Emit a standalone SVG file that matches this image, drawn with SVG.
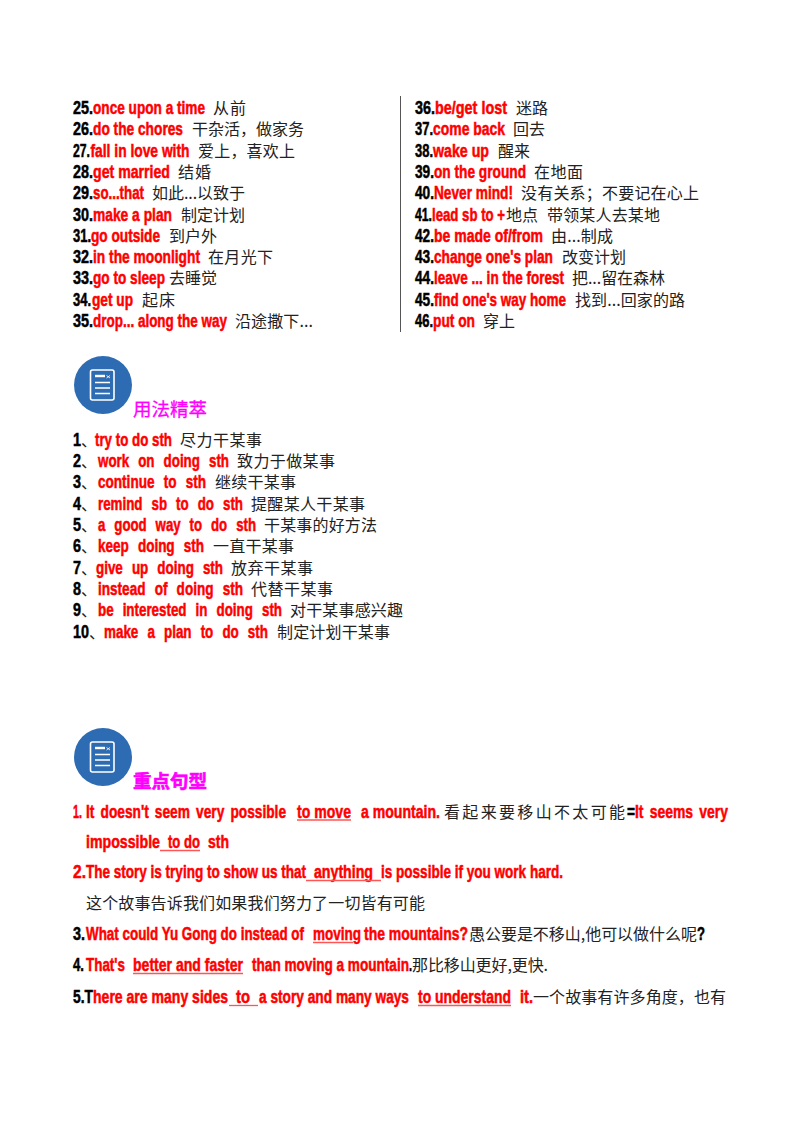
<svg xmlns="http://www.w3.org/2000/svg" width="800" height="1132" viewBox="0 0 800 1132">
<style>
.k,.r{font-family:"Liberation Sans","Noto Sans CJK SC",sans-serif;font-size:17.5px;font-weight:700;stroke-width:.5px}
.k{fill:#000;stroke:#000}
.r{fill:#f00;stroke:#f00}
.c{font-family:"Noto Sans CJK SC",sans-serif;font-size:16px;fill:#222}
.h{font-family:"Noto Sans CJK SC",sans-serif;font-size:18.5px;fill:#f0f;stroke:#f0f}
.u{stroke:#f55;stroke-width:1.3;fill:none}
.w{stroke:#fff;fill:none;stroke-width:1.6}
</style>
<defs>
<g id="icon">
<circle cx="103" cy="385" r="29" fill="#2d6cb3"/>
<rect x="90.500" y="370" width="23.500" height="30" rx="2" class="w"/>
<path d="M95 376H105" stroke="#fff" stroke-width="2.400"/>
<path d="M106.500 375.500L110 378M110 375.500L106.500 378" stroke="#fff" stroke-width=".8"/>
<path d="M95 382.500H110M95 388H110M95 393.500H110" class="w"/>
</g>
</defs>
<rect width="800" height="1132" fill="#fff"/>
<line x1="400.500" y1="96" x2="400.500" y2="332" stroke="#555" stroke-width="1"/>

<g id="vocab-left">
<text class="k" x="73" y="114" textLength="20" lengthAdjust="spacingAndGlyphs">25.</text><text class="r" x="93" y="114" textLength="112" lengthAdjust="spacingAndGlyphs">once upon a time</text><text class="c" x="213" y="114" textLength="33">从前</text>
<text class="k" x="73" y="135" textLength="20" lengthAdjust="spacingAndGlyphs">26.</text><text class="r" x="93" y="135" textLength="90" lengthAdjust="spacingAndGlyphs">do the chores</text><text class="c" x="192" y="135" textLength="112">干杂活，做家务</text>
<text class="k" x="73" y="156.500" textLength="17" lengthAdjust="spacingAndGlyphs">27.</text><text class="r" x="90.500" y="156.500" textLength="99" lengthAdjust="spacingAndGlyphs">fall in love with</text><text class="c" x="198" y="156.500" textLength="97">爱上，喜欢上</text>
<text class="k" x="73" y="178" textLength="20" lengthAdjust="spacingAndGlyphs">28.</text><text class="r" x="93" y="178" textLength="77" lengthAdjust="spacingAndGlyphs">get married</text><text class="c" x="178" y="178" textLength="33">结婚</text>
<text class="k" x="73" y="199" textLength="20" lengthAdjust="spacingAndGlyphs">29.</text><text class="r" x="93" y="199" textLength="51" lengthAdjust="spacingAndGlyphs">so...that</text><text class="c" x="152" y="199" textLength="93">如此...以致于</text>
<text class="k" x="73" y="220.500" textLength="20" lengthAdjust="spacingAndGlyphs">30.</text><text class="r" x="93" y="220.500" textLength="79" lengthAdjust="spacingAndGlyphs">make a plan</text><text class="c" x="181" y="220.500" textLength="64">制定计划</text>
<text class="k" x="73" y="241.500" textLength="18" lengthAdjust="spacingAndGlyphs">31.</text><text class="r" x="91" y="241.500" textLength="69" lengthAdjust="spacingAndGlyphs">go outside</text><text class="c" x="169" y="241.500" textLength="48">到户外</text>
<text class="k" x="73" y="263" textLength="20" lengthAdjust="spacingAndGlyphs">32.</text><text class="r" x="93" y="263" textLength="107" lengthAdjust="spacingAndGlyphs">in the moonlight</text><text class="c" x="208" y="263" textLength="65">在月光下</text>
<text class="k" x="73" y="284" textLength="20" lengthAdjust="spacingAndGlyphs">33.</text><text class="r" x="93" y="284" textLength="72" lengthAdjust="spacingAndGlyphs">go to sleep</text><text class="c" x="169" y="284">去睡觉</text>
<text class="k" x="73" y="305.500" textLength="18" lengthAdjust="spacingAndGlyphs">34.</text><text class="r" x="92" y="305.500" textLength="41" lengthAdjust="spacingAndGlyphs">get up</text><text class="c" x="142" y="305.500" textLength="33">起床</text>
<text class="k" x="73" y="326.500" textLength="20" lengthAdjust="spacingAndGlyphs">35.</text><text class="r" x="93" y="326.500" textLength="134" lengthAdjust="spacingAndGlyphs">drop... along the way</text><text class="c" x="235" y="326.500" textLength="78">沿途撒下...</text>
</g>

<g id="vocab-right">
<text class="k" x="415" y="114" textLength="20" lengthAdjust="spacingAndGlyphs">36.</text><text class="r" x="435" y="114" textLength="72" lengthAdjust="spacingAndGlyphs">be/get lost</text><text class="c" x="516" y="114" textLength="32">迷路</text>
<text class="k" x="415" y="135" textLength="18" lengthAdjust="spacingAndGlyphs">37.</text><text class="r" x="433" y="135" textLength="72" lengthAdjust="spacingAndGlyphs">come back</text><text class="c" x="513" y="135" textLength="32">回去</text>
<text class="k" x="415" y="156.500" textLength="18" lengthAdjust="spacingAndGlyphs">38.</text><text class="r" x="433" y="156.500" textLength="56" lengthAdjust="spacingAndGlyphs">wake up</text><text class="c" x="498" y="156.500" textLength="32">醒来</text>
<text class="k" x="415" y="178" textLength="19" lengthAdjust="spacingAndGlyphs">39.</text><text class="r" x="434" y="178" textLength="92" lengthAdjust="spacingAndGlyphs">on the ground</text><text class="c" x="534" y="178" textLength="49">在地面</text>
<text class="k" x="415" y="199" textLength="19" lengthAdjust="spacingAndGlyphs">40.</text><text class="r" x="434" y="199" textLength="79" lengthAdjust="spacingAndGlyphs">Never mind!</text><text class="c" x="521" y="199" textLength="178">没有关系；不要记在心上</text>
<text class="k" x="415" y="220.500" textLength="17" lengthAdjust="spacingAndGlyphs">41.</text><text class="r" x="432" y="220.500" textLength="73" lengthAdjust="spacingAndGlyphs">lead sb to +</text><text class="c" x="506" y="220.500" textLength="32">地点</text><text class="c" x="547" y="220.500" textLength="113">带领某人去某地</text>
<text class="k" x="415" y="241.500" textLength="19" lengthAdjust="spacingAndGlyphs">42.</text><text class="r" x="434" y="241.500" textLength="109" lengthAdjust="spacingAndGlyphs">be made of/from</text><text class="c" x="551" y="241.500" textLength="62">由...制成</text>
<text class="k" x="415" y="263" textLength="19" lengthAdjust="spacingAndGlyphs">43.</text><text class="r" x="434" y="263" textLength="119" lengthAdjust="spacingAndGlyphs">change one's plan</text><text class="c" x="562" y="263" textLength="64">改变计划</text>
<text class="k" x="415" y="284" textLength="19" lengthAdjust="spacingAndGlyphs">44.</text><text class="r" x="434" y="284" textLength="130" lengthAdjust="spacingAndGlyphs">leave ... in the forest</text><text class="c" x="572" y="284" textLength="93">把...留在森林</text>
<text class="k" x="415" y="305.500" textLength="19" lengthAdjust="spacingAndGlyphs">45.</text><text class="r" x="434" y="305.500" textLength="132" lengthAdjust="spacingAndGlyphs">find one's way home</text><text class="c" x="575" y="305.500" textLength="110">找到...回家的路</text>
<text class="k" x="415" y="326.500" textLength="18" lengthAdjust="spacingAndGlyphs">46.</text><text class="r" x="433" y="326.500" textLength="42" lengthAdjust="spacingAndGlyphs">put on</text><text class="c" x="483" y="326.500" textLength="32">穿上</text>
</g>

<use href="#icon"/>
<text class="h" x="133" y="416" textLength="74" stroke-width=".3">用法精萃</text>

<g id="usage">
<text class="k" x="73" y="445.500" textLength="8" lengthAdjust="spacingAndGlyphs">1</text><text class="c" x="81" y="445.500">、</text><text class="r" x="95" y="445.500" textLength="77" lengthAdjust="spacingAndGlyphs">try to do sth</text><text class="c" x="180" y="445.500" textLength="82">尽力干某事</text>
<text class="k" x="73" y="466.500" textLength="8" lengthAdjust="spacingAndGlyphs">2</text><text class="c" x="81" y="466.500">、</text><text class="r" x="98" y="466.500" textLength="131" lengthAdjust="spacingAndGlyphs" word-spacing="7">work on doing sth</text><text class="c" x="237" y="466.500" textLength="98">致力于做某事</text>
<text class="k" x="73" y="488" textLength="8" lengthAdjust="spacingAndGlyphs">3</text><text class="c" x="81" y="488">、</text><text class="r" x="98" y="488" textLength="108" lengthAdjust="spacingAndGlyphs" word-spacing="7">continue to sth</text><text class="c" x="215" y="488" textLength="81">继续干某事</text>
<text class="k" x="73" y="509.500" textLength="8" lengthAdjust="spacingAndGlyphs">4</text><text class="c" x="81" y="509.500">、</text><text class="r" x="98" y="509.500" textLength="145" lengthAdjust="spacingAndGlyphs" word-spacing="7">remind sb to do sth</text><text class="c" x="251" y="509.500" textLength="114">提醒某人干某事</text>
<text class="k" x="73" y="530.500" textLength="8" lengthAdjust="spacingAndGlyphs">5</text><text class="c" x="81" y="530.500">、</text><text class="r" x="98" y="530.500" textLength="158" lengthAdjust="spacingAndGlyphs" word-spacing="7">a good way to do sth</text><text class="c" x="264" y="530.500" textLength="113">干某事的好方法</text>
<text class="k" x="73" y="552" textLength="8" lengthAdjust="spacingAndGlyphs">6</text><text class="c" x="81" y="552">、</text><text class="r" x="98" y="552" textLength="106" lengthAdjust="spacingAndGlyphs" word-spacing="7">keep doing sth</text><text class="c" x="213" y="552" textLength="81">一直干某事</text>
<text class="k" x="73" y="573.500" textLength="8" lengthAdjust="spacingAndGlyphs">7</text><text class="c" x="81" y="573.500">、</text><text class="r" x="96" y="573.500" textLength="127" lengthAdjust="spacingAndGlyphs" word-spacing="7">give up doing sth</text><text class="c" x="231" y="573.500" textLength="82">放弃干某事</text>
<text class="k" x="73" y="594.500" textLength="8" lengthAdjust="spacingAndGlyphs">8</text><text class="c" x="81" y="594.500">、</text><text class="r" x="98" y="594.500" textLength="145" lengthAdjust="spacingAndGlyphs" word-spacing="7">instead of doing sth</text><text class="c" x="251" y="594.500" textLength="82">代替干某事</text>
<text class="k" x="73" y="615.500" textLength="8" lengthAdjust="spacingAndGlyphs">9</text><text class="c" x="81" y="615.500">、</text><text class="r" x="98" y="615.500" textLength="184" lengthAdjust="spacingAndGlyphs" word-spacing="7">be interested in doing sth</text><text class="c" x="290" y="615.500" textLength="113">对干某事感兴趣</text>
<text class="k" x="73" y="637.500" textLength="16" lengthAdjust="spacingAndGlyphs">10</text><text class="c" x="89" y="637.500">、</text><text class="r" x="104" y="637.500" textLength="164" lengthAdjust="spacingAndGlyphs" word-spacing="7">make a plan to do sth</text><text class="c" x="277" y="637.500" textLength="113">制定计划干某事</text>
</g>

<use href="#icon" y="372"/>
<text class="h" x="133" y="788" textLength="74" font-weight="700" stroke-width=".6">重点句型</text>

<g id="sentences">
<text class="r" x="73" y="817.500" textLength="9" lengthAdjust="spacingAndGlyphs">1.</text><text class="r" x="86" y="817.500" textLength="200" lengthAdjust="spacingAndGlyphs" word-spacing="3">It doesn't seem very possible</text><text class="r" x="297" y="817.500" textLength="54" lengthAdjust="spacingAndGlyphs">to move</text><text class="r" x="361" y="817.500" textLength="79" lengthAdjust="spacingAndGlyphs">a mountain.</text><text class="c" x="444" y="817.500" textLength="181">看起来要移山不太可能</text><text class="k" x="627" y="817.500" textLength="8" lengthAdjust="spacingAndGlyphs">=</text><text class="r" x="635" y="817.500" textLength="93" lengthAdjust="spacingAndGlyphs" word-spacing="3">It seems very</text>
<line class="u" x1="297" y1="820" x2="351" y2="820"/>
<text class="r" x="86" y="847.500" textLength="74" lengthAdjust="spacingAndGlyphs">impossible</text><text class="r" x="168" y="847.500" textLength="32" lengthAdjust="spacingAndGlyphs">to do</text><text class="r" x="208" y="847.500" textLength="21" lengthAdjust="spacingAndGlyphs">sth</text>
<line class="u" x1="160" y1="850.500" x2="200" y2="850.500"/>
<text class="r" x="73" y="877.500" textLength="13" lengthAdjust="spacingAndGlyphs">2.</text><text class="r" x="86" y="877.500" textLength="220" lengthAdjust="spacingAndGlyphs">The story is trying to show us that</text><text class="r" x="314" y="877.500" textLength="59" lengthAdjust="spacingAndGlyphs">anything</text><text class="r" x="381" y="877.500" textLength="182" lengthAdjust="spacingAndGlyphs">is possible if you work hard.</text>
<line class="u" x1="306" y1="880.500" x2="381" y2="880.500"/>
<text class="c" x="86" y="908.500" textLength="339">这个故事告诉我们如果我们努力了一切皆有可能</text>
<text class="k" x="73" y="939.500" textLength="12" lengthAdjust="spacingAndGlyphs">3.</text><text class="r" x="86" y="939.500" textLength="218" lengthAdjust="spacingAndGlyphs">What could Yu Gong do instead of</text><text class="r" x="313" y="939.500" textLength="48" lengthAdjust="spacingAndGlyphs">moving</text><text class="r" x="364" y="939.500" textLength="104" lengthAdjust="spacingAndGlyphs">the mountains?</text><text class="c" x="469" y="939.500" textLength="228">愚公要是不移山,他可以做什么呢</text><text class="k" x="697" y="939.500" textLength="8" lengthAdjust="spacingAndGlyphs">?</text>
<line class="u" x1="313" y1="942.500" x2="353" y2="942.500"/>
<text class="k" x="73" y="970.500" textLength="11" lengthAdjust="spacingAndGlyphs">4.</text><text class="r" x="86" y="970.500" textLength="39" lengthAdjust="spacingAndGlyphs">That's</text><text class="r" x="133" y="970.500" textLength="110" lengthAdjust="spacingAndGlyphs">better and faster</text><text class="r" x="252" y="970.500" textLength="157" lengthAdjust="spacingAndGlyphs">than moving a mountain</text><text class="k" x="409" y="970.500" textLength="3" lengthAdjust="spacingAndGlyphs">.</text><text class="c" x="412" y="970.500" textLength="136">那比移山更好,更快.</text>
<line class="u" x1="133" y1="973.500" x2="243" y2="973.500"/>
<text class="k" x="73" y="1002.500" textLength="20" lengthAdjust="spacingAndGlyphs">5.T</text><text class="r" x="93" y="1002.500" textLength="135" lengthAdjust="spacingAndGlyphs">here are many sides</text><text class="r" x="236" y="1002.500" textLength="14" lengthAdjust="spacingAndGlyphs">to</text><text class="r" x="259" y="1002.500" textLength="150" lengthAdjust="spacingAndGlyphs">a story and many ways</text><text class="r" x="418" y="1002.500" textLength="93" lengthAdjust="spacingAndGlyphs">to understand</text><text class="r" x="520" y="1002.500" textLength="13" lengthAdjust="spacingAndGlyphs">it.</text><text class="c" x="533" y="1002.500" textLength="193">一个故事有许多角度，也有</text>
<line class="u" x1="229" y1="1005.500" x2="258" y2="1005.500"/>
<line class="u" x1="418" y1="1005.500" x2="511" y2="1005.500"/>
</g>
</svg>
